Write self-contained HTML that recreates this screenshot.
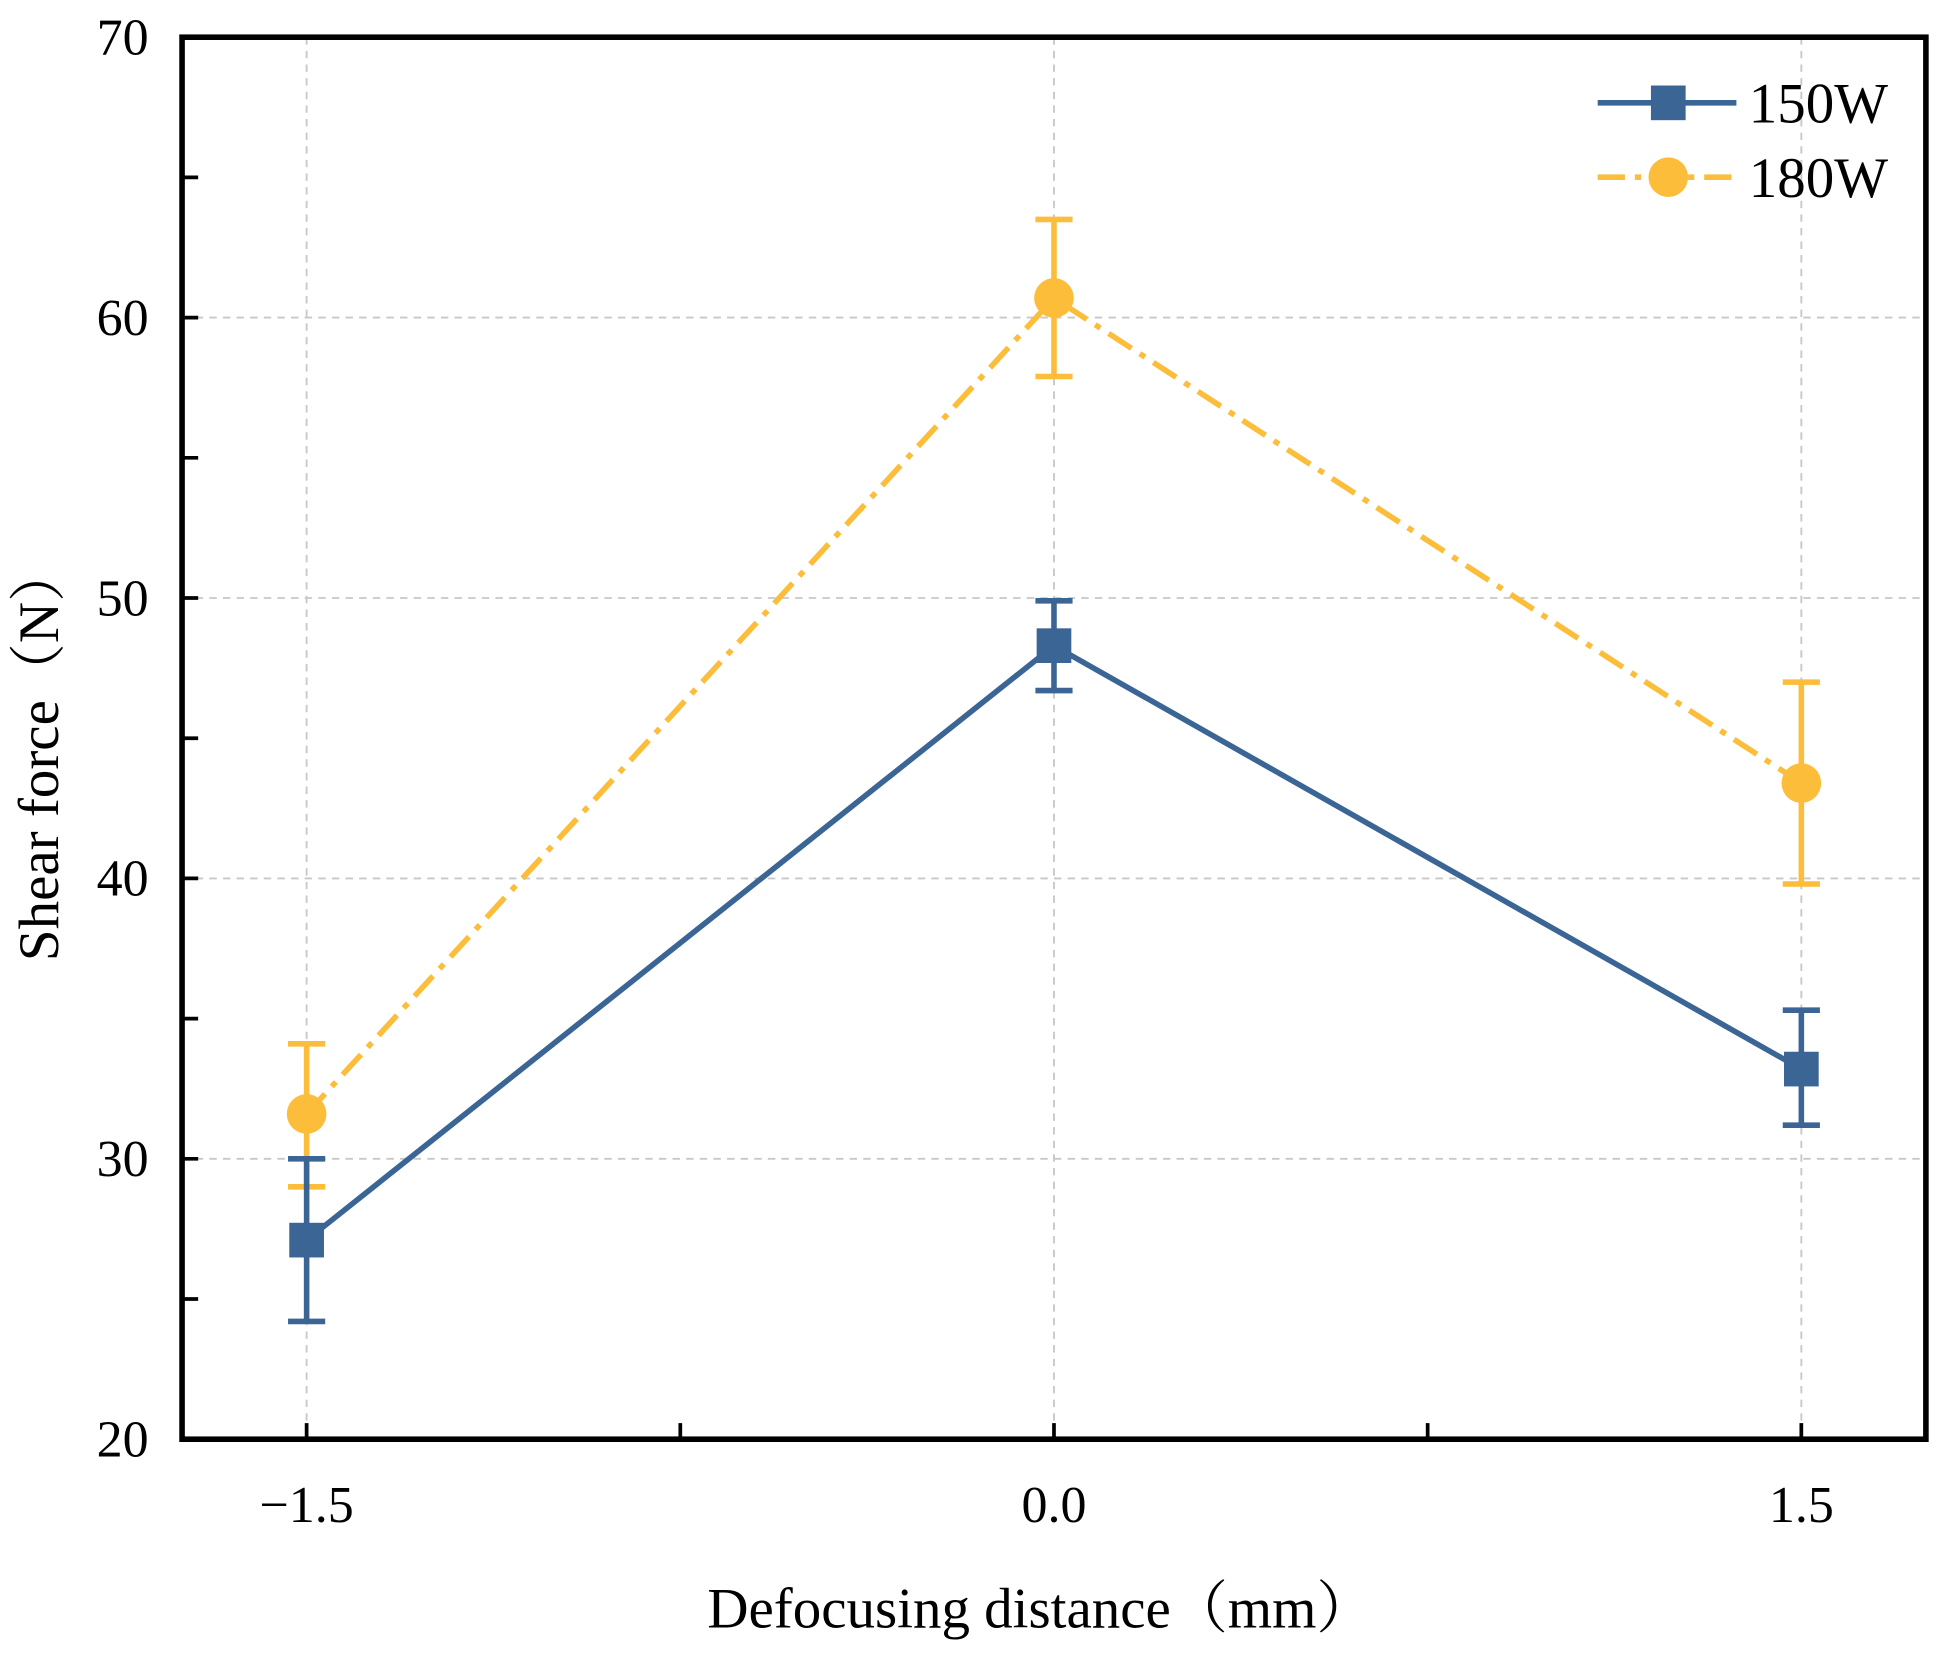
<!DOCTYPE html>
<html><head><meta charset="utf-8"><style>html,body{margin:0;padding:0;background:#fff}svg{display:block}</style></head>
<body>
<svg id="chart" width="1942" height="1656" viewBox="0 0 1568 1337" xmlns="http://www.w3.org/2000/svg" font-family="'Liberation Serif','Noto Serif CJK SC',serif">
</svg>
<script>
const categories = [-1.5, 0, 1.5];
const s150 = [27.1, 48.3, 33.2];
const s150Up = [30.0, 49.9, 35.3];
const s150Down = [24.2, 46.7, 31.2];
const s180 = [31.6, 60.7, 43.4];
const s180Up = [34.1, 63.5, 47.0];
const s180Down = [29.0, 57.9, 39.8];
const yTicks = [20, 30, 40, 50, 60, 70];
const xTicks = ["-1.5", "0.0", "1.5"];

const L=147,R=1555,T=30,B=1162;
const xs=v=>L+(v+1.75)/3.5*(R-L);
const ys=v=>B-(v-20)/50*(B-T);
const svg=document.getElementById('chart');
const NS='http://www.w3.org/2000/svg';
function mk(tag,attrs,parent){const e=document.createElementNS(NS,tag);for(const k in attrs)e.setAttribute(k,attrs[k]);(parent||svg).appendChild(e);return e;}

yTicks.forEach(v=>{if(v>20&&v<70){const g=mk('line',{x1:L,x2:R,y1:ys(v),y2:ys(v),stroke:'#c8c8c8','stroke-width':1.5,'stroke-dasharray':'6,5'});

}});
categories.forEach(v=>{const g=mk('line',{x1:xs(v),x2:xs(v),y1:T,y2:B,stroke:'#c8c8c8','stroke-width':1.5,'stroke-dasharray':'6,5'});

});

for(let v=20;v<=70;v+=5){const t=mk('line',{x1:L,x2:L+13,y1:ys(v),y2:ys(v),stroke:'#000','stroke-width':3});

}
for(let v=-1.5;v<=1.51;v+=0.75){const t=mk('line',{x1:xs(v),x2:xs(v),y1:B,y2:B-13,stroke:'#000','stroke-width':3});

}

yTicks.forEach(v=>{const t=mk('text',{x:120,y:ys(v)+14,'text-anchor':'end','font-size':42});t.textContent=v;

});
xTicks.forEach((s,i)=>{const t=mk('text',{x:xs(categories[i]),y:1229,'text-anchor':'middle','font-size':42});t.textContent=s.replace('-','\u2212');

});

function series(vals,up,down,color,dash,marker,name){
  const pl=mk('polyline',{points:vals.map((v,i)=>xs(categories[i])+','+ys(v)).join(' '),fill:'none',stroke:color,'stroke-width':4.5,'stroke-dasharray':dash});
  
  
  vals.forEach((v,i)=>{const x=xs(categories[i]);
    const g=mk('g',{stroke:color,'stroke-width':4.5});
    
    
    mk('line',{x1:x,x2:x,y1:ys(up[i]),y2:ys(down[i])},g);
    mk('line',{x1:x-15,x2:x+15,y1:ys(up[i]),y2:ys(up[i])},g);
    mk('line',{x1:x-15,x2:x+15,y1:ys(down[i]),y2:ys(down[i])},g);
    let m;
    if(marker==='sq') m=mk('rect',{x:x-14,y:ys(v)-14,width:28,height:28,fill:color});
    else m=mk('circle',{cx:x,cy:ys(v),r:16,fill:color});
    
    
  });
}
series(s180,s180Up,s180Down,'#fbbd3a','22,8,5,8','ci','series-180w');
series(s150,s150Up,s150Down,'#3a6595','none','sq','series-150w');

const fr=mk('rect',{x:L,y:T,width:R-L,height:B-T,fill:'none',stroke:'#000','stroke-width':4.5});



const lg=mk('g',{});


mk('line',{x1:1290,x2:1402,y1:83,y2:83,stroke:'#3a6595','stroke-width':4.5},lg);
mk('rect',{x:1333,y:69,width:28,height:28,fill:'#3a6595'},lg);
const t1=mk('text',{x:1412,y:99,'font-size':46},lg);t1.textContent='150W';


mk('line',{x1:1290,x2:1402,y1:143,y2:143,stroke:'#fbbd3a','stroke-width':4.5,'stroke-dasharray':'22,8,5,8'},lg);
mk('circle',{cx:1347,cy:143,r:16,fill:'#fbbd3a'},lg);
const t2=mk('text',{x:1412,y:159,'font-size':46},lg);t2.textContent='180W';



const xt=mk('text',{x:840,y:1314,'text-anchor':'middle','font-size':46});xt.textContent='Defocusing distance\uFF08mm\uFF09';


const yt=mk('text',{x:0,y:0,'text-anchor':'middle','font-size':46,transform:'translate(47,608) rotate(-90)'});yt.textContent='Shear force\uFF08N\uFF09';


</script>
</body></html>
